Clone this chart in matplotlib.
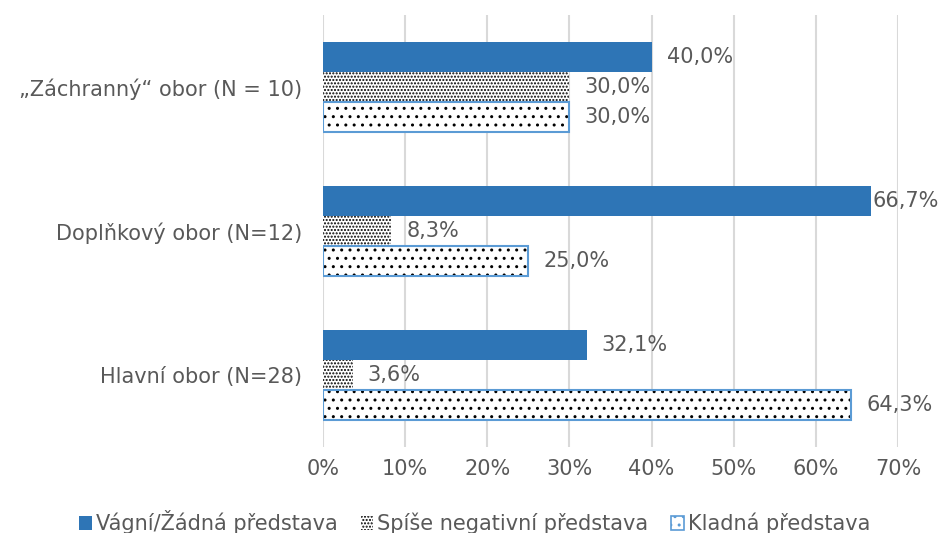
import numpy as np
import matplotlib as mpl
import matplotlib.pyplot as plt
from matplotlib.patches import Patch
import matplotlib.ticker as tck

categories = ['Hlavní obor (N=28)', 'Doplňkový obor (N=12)', '„Záchranný“ obor (N = 10)']
series_names = ['Vágní/Žádná představa', 'Spíše negativní představa', 'Kladná představa']
vague = [32.1, 66.7, 40.0]
negative = [3.6, 8.3, 30.0]
positive = [64.3, 25.0, 30.0]
xticks = [0, 10, 20, 30, 40, 50, 60, 70]


def main():
    mpl.rcParams['font.family'] = 'DejaVu Sans'
    mpl.rcParams['hatch.linewidth'] = 1.0
    txt = '#595959'
    blue = '#2E75B6'
    lblue = '#5B9BD5'
    fs = 15

    fig = plt.figure(figsize=(9.46, 5.33), dpi=100)
    ax = fig.add_axes([0.3414, 0.1614, 0.6078, 0.8105])

    y = np.arange(len(categories))
    h = 0.208

    ax.barh(y + h, vague, height=h, color=blue, linewidth=0, zorder=3)
    ax.barh(y, negative, height=h, color='white', edgecolor='black',
            hatch='.....', linewidth=0, zorder=3)
    ax.barh(y - h, positive, height=h, color='white', edgecolor='black',
            hatch='..', linewidth=0, zorder=3)
    ax.barh(y - h, positive, height=h, fill=False, edgecolor=lblue,
            linewidth=1.5, zorder=4)

    # value labels (pulled in when they would run off the figure)
    px = 70.0 / (0.6078 * 946)  # data units per pixel
    right = 70 + (946 - 898) * px
    for vals, off in [(vague, h), (negative, 0), (positive, -h)]:
        for yi, v in zip(y, vals):
            pad = 15 * px
            if v + pad + 72 * px > right:
                pad = 2 * px
            ax.text(v + pad, yi + off, ('%.1f%%' % v).replace('.', ','),
                    va='center', ha='left', fontsize=fs, color=txt, zorder=5)

    ax.set_xlim(0, 70)
    ax.set_ylim(-0.5, 2.5)
    ax.set_xticks(xticks)
    ax.xaxis.set_major_formatter(tck.FuncFormatter(lambda v, p: '%d%%' % v))
    ax.set_yticks(y)
    ax.set_yticklabels(categories)
    ax.tick_params(axis='both', length=0, labelsize=fs, labelcolor=txt)
    ax.tick_params(axis='x', pad=9)
    ax.tick_params(axis='y', pad=15)
    ax.grid(axis='x', color='#D9D9D9', linewidth=1.5, zorder=0)
    for s in ax.spines.values():
        s.set_visible(False)

    handles = [
        Patch(facecolor=blue, linewidth=0),
        Patch(facecolor='white', edgecolor='black', hatch='.....', linewidth=0),
        Patch(facecolor='white', edgecolor=lblue, hatch='..', linewidth=1.2),
    ]
    fig.legend(handles, series_names, loc='center', bbox_to_anchor=(0.502, 0.02),
               ncol=3, frameon=False, fontsize=fs, handlelength=0.6,
               handleheight=0.6, handletextpad=0.2, columnspacing=1.1,
               labelcolor=txt)

    plt.savefig('out.png', dpi=100)
    plt.close()


if __name__ == '__main__':
    main()
